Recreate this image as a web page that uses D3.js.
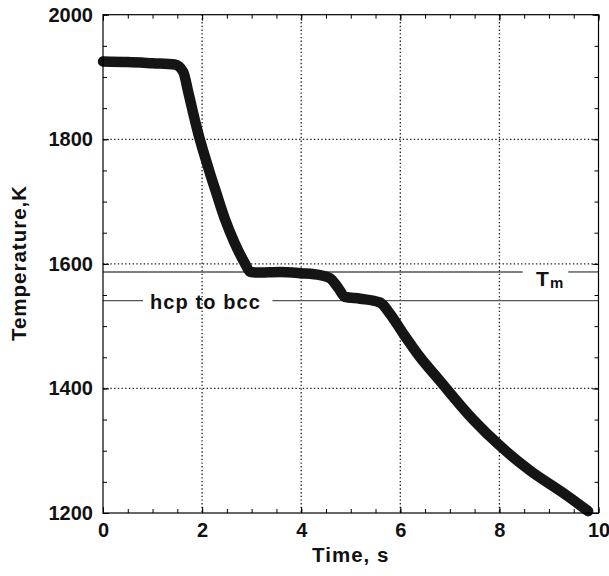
<!DOCTYPE html>
<html lang="en">
<head>
    <meta charset="UTF-8">
    <title>Temperature vs Time</title>
    <script src="https://d3js.org/d3.v7.min.js"></script>
    <style>
        body {
            margin: 0;
            background-color: #fff;
        }

        svg {
            display: block;
            font-family: "Liberation Sans", Arial, sans-serif;
            font-weight: bold;
        }

        .grid line {
            stroke: #222;
            stroke-width: 1.3;
            stroke-dasharray: 1.4, 2.3;
        }

        .axis path, .axis line {
            stroke: #000;
        }
    </style>
</head>
<body>

<svg width="609" height="576"></svg>

<script>
    const svgWidth = 609;
    const svgHeight = 576;
    const margin = {top: 14.7, right: 10.5, bottom: 63, left: 103};
    const width = svgWidth - margin.left - margin.right;
    const height = svgHeight - margin.top - margin.bottom;

    const time = [0.0, 0.5, 1.0, 1.45, 1.62, 1.72, 1.82, 1.92, 2.06, 2.16, 2.29, 2.46, 2.66, 2.87, 2.97,
                  3.1, 3.57, 4.0, 4.38, 4.58, 4.75, 4.88, 5.19, 5.59, 5.79, 6.06, 6.4, 6.77,
                  7.47, 8.01, 8.62, 9.29, 9.79];
    const temperature = [1925, 1924, 1922, 1920, 1908, 1876, 1842, 1810, 1771, 1745, 1713, 1672, 1633, 1600, 1587,
                         1586, 1587, 1585, 1582, 1577, 1561, 1547, 1544, 1538, 1520, 1488, 1450, 1415,
                         1350, 1308, 1268, 1232, 1203];

    const xTicks = [0, 2, 4, 6, 8, 10];
    const yTicks = [1200, 1400, 1600, 1800, 2000];
    const refLabels = ["T", "hcp to bcc"];
    const refValues = [1587, 1541];

    const svg = d3.select("svg")
        .append("g")
        .attr("transform", `translate(${margin.left}, ${margin.top})`);

    const xScale = d3.scaleLinear().domain([0, 10]).range([0, width]);
    const yScale = d3.scaleLinear().domain([1200, 2000]).range([height, 0]);

    // dotted grid at inner major ticks
    const grid = svg.append("g").attr("class", "grid");
    grid.selectAll(".gx")
        .data(xTicks.slice(1, -1))
        .enter().append("line")
        .attr("x1", d => xScale(d)).attr("x2", d => xScale(d))
        .attr("y1", 0).attr("y2", height);
    grid.selectAll(".gy")
        .data(yTicks.slice(1, -1))
        .enter().append("line")
        .attr("y1", d => yScale(d)).attr("y2", d => yScale(d))
        .attr("x1", 0).attr("x2", width);

    // reference lines with gaps for the labels
    const refY = refValues.map(v => yScale(v));
    const refSegs = [
        [0, xScale(8.47)], [xScale(9.39), width],
        [0, xScale(0.81)], [xScale(3.42), width]
    ];
    svg.selectAll(".ref")
        .data(refSegs)
        .enter().append("line")
        .attr("x1", d => d[0]).attr("x2", d => d[1])
        .attr("y1", (d, i) => refY[i < 2 ? 0 : 1])
        .attr("y2", (d, i) => refY[i < 2 ? 0 : 1])
        .attr("stroke", "#555")
        .attr("stroke-width", 1.4);

    const tm = svg.append("text")
        .attr("x", xScale(8.74))
        .attr("y", refY[0] + 14)
        .attr("font-size", 21)
        .attr("fill", "#111")
        .text(refLabels[0]);
    tm.append("tspan")
        .attr("dy", 2.5)
        .attr("dx", 1)
        .attr("font-size", 15)
        .text("m");

    svg.append("text")
        .attr("x", xScale(2.07))
        .attr("y", refY[1] + 8.5)
        .attr("text-anchor", "middle")
        .attr("font-size", 20)
        .attr("letter-spacing", 1.1)
        .attr("fill", "#111")
        .text(refLabels[1]);

    // the data curve
    const points = time.map((t, i) => [t, temperature[i]]);
    const line = d3.line()
        .x(d => xScale(d[0]))
        .y(d => yScale(d[1]))
        .curve(d3.curveMonotoneX);

    svg.append("path")
        .datum(points)
        .attr("fill", "none")
        .attr("stroke", "#151515")
        .attr("stroke-width", 10.5)
        .attr("stroke-linecap", "round")
        .attr("stroke-linejoin", "round")
        .attr("d", line);

    // axes with inward ticks on all four sides
    function drawAxis(axisFn, scale, majors, minors, transform, showLabels) {
        const g = svg.append("g").attr("class", "axis").attr("transform", transform);
        g.call(axisFn(scale).tickValues(minors).tickSize(-4).tickFormat(""));
        g.select(".domain").remove();
        const gm = svg.append("g").attr("class", "axis").attr("transform", transform);
        gm.call(axisFn(scale).tickValues(majors).tickSize(-6).tickPadding(showLabels ? 10 : 0)
            .tickFormat(showLabels ? d3.format("d") : ""));
        gm.select(".domain").remove();
        gm.selectAll("text")
            .attr("font-size", 20)
            .attr("font-family", "'Liberation Sans', Arial, sans-serif")
            .attr("font-weight", "bold")
            .attr("fill", "#111");
        return gm;
    }

    const xMinor = d3.range(0, 10.01, 0.5);
    const yMinor = d3.range(1200, 2000.1, 50);

    drawAxis(d3.axisBottom, xScale, xTicks, xMinor, `translate(0, ${height})`, true);
    drawAxis(d3.axisTop, xScale, xTicks, xMinor, "translate(0, 0)", false);
    drawAxis(d3.axisLeft, yScale, yTicks, yMinor, "translate(0, 0)", true);
    drawAxis(d3.axisRight, yScale, yTicks, yMinor, `translate(${width}, 0)`, false);

    svg.append("rect")
        .attr("width", width)
        .attr("height", height)
        .attr("fill", "none")
        .attr("stroke", "#000")
        .attr("stroke-width", 1.2);

    // axis titles
    svg.append("text")
        .attr("x", width / 2)
        .attr("y", height + 49.5)
        .attr("text-anchor", "middle")
        .attr("font-size", 20.5)
        .attr("letter-spacing", 1)
        .attr("fill", "#111")
        .text("Time, s");

    svg.append("text")
        .attr("transform", `translate(${26 - margin.left}, ${263 - margin.top}) rotate(-90)`)
        .attr("text-anchor", "middle")
        .attr("font-size", 20.5)
        .attr("letter-spacing", 1)
        .attr("fill", "#111")
        .text("Temperature,K");
</script>

</body>
</html>
